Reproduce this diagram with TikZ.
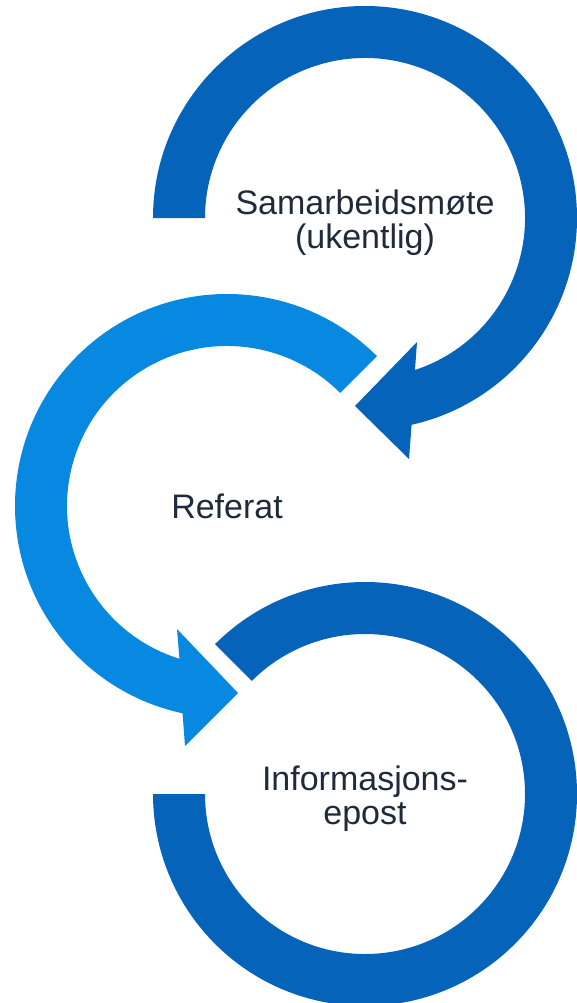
\documentclass[tikz,border=0pt]{standalone}
\usepackage{fontspec}
\setmainfont{Liberation Sans}
\usetikzlibrary{calc}
\definecolor{arrowdark}{HTML}{0563BA}
\definecolor{arrowlight}{HTML}{0789E1}
\definecolor{labeltext}{HTML}{1F2A3A}
\tikzset{
    bandnode/.style = {draw=none, fill=#1},
    textnode/.style = {draw=none, fill=none, rectangle, inner sep=0em, align=center, 
      text=labeltext, font=\fontsize{34}{34}\selectfont}
}

\begin{document}
\begin{tikzpicture}[x=1pt, y=1pt]
    \useasboundingbox (0,0) rectangle (577,-1003);
    \coordinate (C1) at (365,-218);
    \coordinate (C2) at (227,-506);
    \coordinate (C3) at (365,-794);

    % top arrow
    \begin{scope}[shift={(C1)}]
        \fill[bandnode=arrowdark] (180:212) arc[start angle=180, end angle=-77.3, radius=212] 
            -- (44,-241) -- (-10,-188) -- (52,-124) -- (-71.8:160) 
            arc[start angle=-71.8, end angle=180, radius=160] -- cycle;
    \end{scope}
    % middle arrow
    \begin{scope}[shift={(C2)}]
        \fill[bandnode=arrowlight] (45:212) arc[start angle=45, end angle=257.9, radius=212] 
            -- (-42,-240) -- (11,-187) -- (-50,-123) -- (252.7:160) 
            arc[start angle=252.7, end angle=45, radius=160] -- cycle;
    \end{scope}
    % bottom band
    \begin{scope}[shift={(C3)}]
        \fill[bandnode=arrowdark] (135:212) arc[start angle=135, end angle=-180, radius=212] 
            -- (-180:160) arc[start angle=-180, end angle=135, radius=160] -- cycle;
    \end{scope}

    \node [textnode, name=Samarbeid, yshift=-5] at (C1) {Samarbeidsmøte\\(ukentlig)};
    \node [textnode, name=Referat] at (C2) {Referat};
    \node [textnode, name=Epost, yshift=-5] at (C3) {Informasjons-\\epost};
\end{tikzpicture}
\end{document}
